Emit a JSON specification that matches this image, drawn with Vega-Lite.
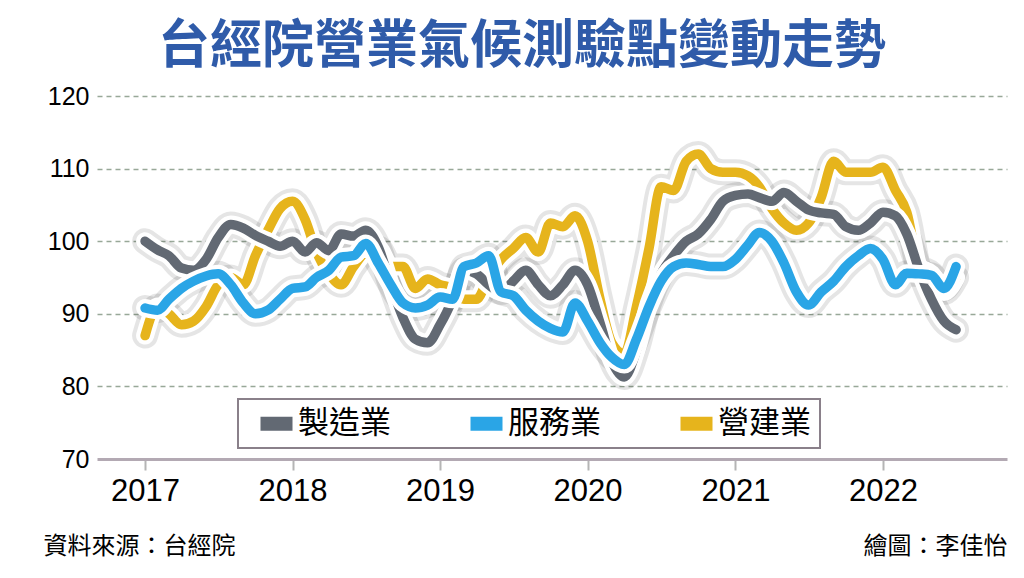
{
  "$schema": "https://vega.github.io/schema/vega-lite/v6.json",
  "width": 910,
  "height": 363,
  "autosize": {"type": "none"},
  "padding": {"left": 97, "top": 96, "right": 17, "bottom": 119},
  "background": "white",
  "title": {
    "text": "台經院營業氣候測驗點變動走勢",
    "font": "Noto Sans CJK TC",
    "fontSize": 52,
    "fontWeight": "bold",
    "color": "#2f5ba9",
    "anchor": "middle",
    "frame": "group",
    "offset": 10,
    "dx": -30
  },
  "data": {
    "format": {"parse": {"d": "utc:'%Y-%m'"}},
    "values": [
      {"d": "2017-01", "製造業": 100, "服務業": 90.8, "營建業": 87},
      {"d": "2017-02", "製造業": 98.8, "服務業": 90.5, "營建業": 91},
      {"d": "2017-03", "製造業": 98, "服務業": 92, "營建業": 90},
      {"d": "2017-04", "製造業": 96.3, "服務業": 93.5, "營建業": 88.5},
      {"d": "2017-05", "製造業": 96, "服務業": 94.5, "營建業": 89},
      {"d": "2017-06", "製造業": 97.5, "服務業": 95.2, "營建業": 91},
      {"d": "2017-07", "製造業": 100.5, "服務業": 95.5, "營建業": 94},
      {"d": "2017-08", "製造業": 102.3, "服務業": 94, "營建業": 95},
      {"d": "2017-09", "製造業": 101.8, "服務業": 91.5, "營建業": 94},
      {"d": "2017-10", "製造業": 100.8, "服務業": 90, "營建業": 98},
      {"d": "2017-11", "製造業": 100, "服務業": 90.5, "營建業": 101.5},
      {"d": "2017-12", "製造業": 99.3, "服務業": 92, "營建業": 104.5},
      {"d": "2018-01", "製造業": 100, "服務業": 93.5, "營建業": 105.5},
      {"d": "2018-02", "製造業": 98.5, "服務業": 93.7, "營建業": 103},
      {"d": "2018-03", "製造業": 99.8, "服務業": 95, "營建業": 98.5},
      {"d": "2018-04", "製造業": 98.7, "服務業": 96, "營建業": 95.5},
      {"d": "2018-05", "製造業": 101, "服務業": 97.8, "營建業": 94},
      {"d": "2018-06", "製造業": 100.7, "服務業": 98, "營建業": 96.5},
      {"d": "2018-07", "製造業": 101.5, "服務業": 99.7, "營建業": 98.5},
      {"d": "2018-08", "製造業": 99.2, "服務業": 97, "營建業": 99},
      {"d": "2018-09", "製造業": 94, "服務業": 94, "營建業": 96.5},
      {"d": "2018-10", "製造業": 89.5, "服務業": 91.5, "營建業": 96.5},
      {"d": "2018-11", "製造業": 86.5, "服務業": 90.8, "營建業": 93.5},
      {"d": "2018-12", "製造業": 86, "服務業": 91.2, "營建業": 94.8},
      {"d": "2019-01", "製造業": 88.5, "服務業": 92.3, "營建業": 94},
      {"d": "2019-02", "製造業": 92, "服務業": 92, "營建業": 93.5},
      {"d": "2019-03", "製造業": 96, "服務業": 96.5, "營建業": 92},
      {"d": "2019-04", "製造業": 95.5, "服務業": 97, "營建業": 92},
      {"d": "2019-05", "製造業": 94, "服務業": 98, "營建業": 95},
      {"d": "2019-06", "製造業": 93, "服務業": 93, "營建業": 97.5},
      {"d": "2019-07", "製造業": 94.5, "服務業": 92.5, "營建業": 99},
      {"d": "2019-08", "製造業": 96, "服務業": 90.5, "營建業": 100.5},
      {"d": "2019-09", "製造業": 94, "服務業": 89, "營建業": 98.5},
      {"d": "2019-10", "製造業": 92.5, "服務業": 88, "營建業": 102.5},
      {"d": "2019-11", "製造業": 94, "服務業": 87.5, "營建業": 102},
      {"d": "2019-12", "製造業": 96, "服務業": 91.5, "營建業": 103.5},
      {"d": "2020-01", "製造業": 94, "服務業": 89, "營建業": 100},
      {"d": "2020-02", "製造業": 88.7, "服務業": 86, "營建業": 92},
      {"d": "2020-03", "製造業": 83.5, "服務業": 84, "營建業": 86},
      {"d": "2020-04", "製造業": 81.3, "服務業": 83, "營建業": 84.5},
      {"d": "2020-05", "製造業": 85, "服務業": 86.5, "營建業": 91},
      {"d": "2020-06", "製造業": 91.5, "服務業": 91, "營建業": 99},
      {"d": "2020-07", "製造業": 95.5, "服務業": 94.5, "營建業": 107.5},
      {"d": "2020-08", "製造業": 98, "服務業": 96.5, "營建業": 107},
      {"d": "2020-09", "製造業": 100, "服務業": 97, "營建業": 111},
      {"d": "2020-10", "製造業": 101, "服務業": 96.8, "營建業": 112},
      {"d": "2020-11", "製造業": 103, "服務業": 96.5, "營建業": 110},
      {"d": "2020-12", "製造業": 105.5, "服務業": 96.5, "營建業": 109.5},
      {"d": "2021-01", "製造業": 106.3, "服務業": 97.5, "營建業": 109.5},
      {"d": "2021-02", "製造業": 106.5, "服務業": 99.5, "營建業": 109},
      {"d": "2021-03", "製造業": 106, "服務業": 101.2, "營建業": 107.5},
      {"d": "2021-04", "製造業": 105.5, "服務業": 100, "營建業": 104.5},
      {"d": "2021-05", "製造業": 106.7, "服務業": 97, "營建業": 102.5},
      {"d": "2021-06", "製造業": 105.5, "服務業": 93, "營建業": 101.5},
      {"d": "2021-07", "製造業": 104.3, "服務業": 91.2, "營建業": 102.5},
      {"d": "2021-08", "製造業": 103.9, "服務業": 93, "營建業": 106},
      {"d": "2021-09", "製造業": 103.7, "服務業": 94.5, "營建業": 111},
      {"d": "2021-10", "製造業": 102, "服務業": 96.5, "營建業": 109.5},
      {"d": "2021-11", "製造業": 101.5, "服務業": 98, "營建業": 109.5},
      {"d": "2021-12", "製造業": 102.5, "服務業": 99, "營建業": 109.5},
      {"d": "2022-01", "製造業": 104, "服務業": 97.5, "營建業": 110.2},
      {"d": "2022-02", "製造業": 103.5, "服務業": 94, "營建業": 107},
      {"d": "2022-03", "製造業": 101, "服務業": 95.6, "營建業": 104},
      {"d": "2022-04", "製造業": 96, "服務業": 95.5, "營建業": 96.5},
      {"d": "2022-05", "製造業": 92, "服務業": 95.3, "營建業": 95.5},
      {"d": "2022-06", "製造業": 89, "服務業": 93.5, "營建業": 93},
      {"d": "2022-07", "製造業": 87.8, "服務業": 96.5, "營建業": 95}
    ]
  },
  "transform": [{"fold": ["製造業", "服務業", "營建業"], "as": ["series", "value"]}],
  "encoding": {
    "x": {
      "field": "d",
      "type": "temporal",
      "scale": {
        "type": "utc",
        "nice": false,
        "domain": [
          {"year": 2016, "month": 9, "date": 4, "utc": true},
          {"year": 2022, "month": 11, "date": 4, "utc": true}
        ]
      },
      "axis": {
        "values": [
          {"year": 2017, "month": 1, "date": 1, "utc": true},
          {"year": 2018, "month": 1, "date": 1, "utc": true},
          {"year": 2019, "month": 1, "date": 1, "utc": true},
          {"year": 2020, "month": 1, "date": 1, "utc": true},
          {"year": 2021, "month": 1, "date": 1, "utc": true},
          {"year": 2022, "month": 1, "date": 1, "utc": true}
        ],
        "format": "%Y",
        "formatType": "utc",
        "labelFont": "Liberation Sans",
        "labelFontSize": 31,
        "labelColor": "#000000",
        "labelPadding": 6,
        "labelFlush": false,
        "tickSize": 11,
        "tickWidth": 2,
        "tickColor": "#b5b5b5",
        "domainColor": "#b3a9b3",
        "domainWidth": 3,
        "grid": false,
        "title": "繪圖：李佳怡",
        "titleFont": "Noto Sans CJK TC",
        "titleFontSize": 24,
        "titleFontWeight": "normal",
        "titleColor": "#000000",
        "titleAlign": "right",
        "titleBaseline": "alphabetic",
        "titleX": 910,
        "titleY": 94
      }
    },
    "y": {
      "field": "value",
      "type": "quantitative",
      "scale": {"domain": [70, 120], "nice": false, "zero": false},
      "axis": {
        "values": [70, 80, 90, 100, 110, 120],
        "labelFont": "Liberation Sans",
        "labelFontSize": 25,
        "labelColor": "#000000",
        "labelPadding": 8,
        "ticks": false,
        "domain": false,
        "grid": true,
        "gridDash": [5, 4],
        "gridColor": "#98a898",
        "gridWidth": 1.3,
        "gridOpacity": {"condition": {"test": "datum.value === 70", "value": 0}, "value": 1},
        "title": "資料來源：台經院",
        "titleFont": "Noto Sans CJK TC",
        "titleFontSize": 24,
        "titleFontWeight": "normal",
        "titleColor": "#000000",
        "titleAngle": 0,
        "titleAlign": "left",
        "titleBaseline": "alphabetic",
        "titleX": -54,
        "titleY": 457
      }
    }
  },
  "layer": [
    {
      "mark": {"type": "line", "stroke": "#000000", "strokeWidth": 26, "opacity": 0.1, "interpolate": "monotone", "strokeCap": "round", "strokeJoin": "round"},
      "encoding": {"detail": {"field": "series"}}
    },
    {
      "transform": [{"filter": "datum.series === '營建業'"}],
      "mark": {"type": "line", "stroke": "#ffffff", "strokeWidth": 18, "interpolate": "monotone", "strokeCap": "round", "strokeJoin": "round"},
      "encoding": {}
    },
    {
      "transform": [{"filter": "datum.series === '營建業'"}],
      "mark": {"type": "line", "strokeWidth": 9.5, "interpolate": "monotone", "strokeCap": "round", "strokeJoin": "round"},
      "encoding": {"color": {"field": "series", "type": "nominal", "scale": {"domain": ["製造業", "服務業", "營建業"], "range": ["#626973", "#2aa5e6", "#e6b41c"]}, "legend": {"encode": {"symbols": {"update": {"fill": {"scale": "color", "field": "value"}, "fillOpacity": {"value": 1}, "strokeWidth": {"value": 0}}}}}}}
    },
    {
      "transform": [{"filter": "datum.series === '製造業'"}],
      "mark": {"type": "line", "stroke": "#ffffff", "strokeWidth": 18, "interpolate": "monotone", "strokeCap": "round", "strokeJoin": "round"},
      "encoding": {}
    },
    {
      "transform": [{"filter": "datum.series === '製造業'"}],
      "mark": {"type": "line", "strokeWidth": 9.5, "interpolate": "monotone", "strokeCap": "round", "strokeJoin": "round"},
      "encoding": {"color": {"field": "series", "type": "nominal", "scale": {"domain": ["製造業", "服務業", "營建業"], "range": ["#626973", "#2aa5e6", "#e6b41c"]}, "legend": {"encode": {"symbols": {"update": {"fill": {"scale": "color", "field": "value"}, "fillOpacity": {"value": 1}, "strokeWidth": {"value": 0}}}}}}}
    },
    {
      "transform": [{"filter": "datum.series === '服務業'"}],
      "mark": {"type": "line", "stroke": "#ffffff", "strokeWidth": 18, "interpolate": "monotone", "strokeCap": "round", "strokeJoin": "round"},
      "encoding": {}
    },
    {
      "transform": [{"filter": "datum.series === '服務業'"}],
      "mark": {"type": "line", "strokeWidth": 9.5, "interpolate": "monotone", "strokeCap": "round", "strokeJoin": "round"},
      "encoding": {"color": {"field": "series", "type": "nominal", "scale": {"domain": ["製造業", "服務業", "營建業"], "range": ["#626973", "#2aa5e6", "#e6b41c"]}, "legend": {"encode": {"symbols": {"update": {"fill": {"scale": "color", "field": "value"}, "fillOpacity": {"value": 1}, "strokeWidth": {"value": 0}}}}}}}
    }
  ],
  "resolve": {"scale": {"color": "shared"}},
  "config": {
    "view": {"stroke": null},
    "legend": {
      "title": null,
      "orient": "none",
      "legendX": 141,
      "legendY": 303,
      "direction": "horizontal",
      "symbolType": "M-0.25,-0.88H3.75V0.88H-0.25Z",
      "symbolSize": 256,
      "symbolStrokeWidth": 0,
      "symbolOpacity": 1,
      "labelFont": "Noto Sans CJK TC",
      "labelFontSize": 31,
      "labelColor": "#000000",
      "labelOffset": 20,
      "labelLimit": 300,
      "columnPadding": 66,
      "padding": 9,
      "strokeColor": "#8a808a",
      "strokeWidth": 2,
      "fillColor": "#ffffff"
    }
  }
}
